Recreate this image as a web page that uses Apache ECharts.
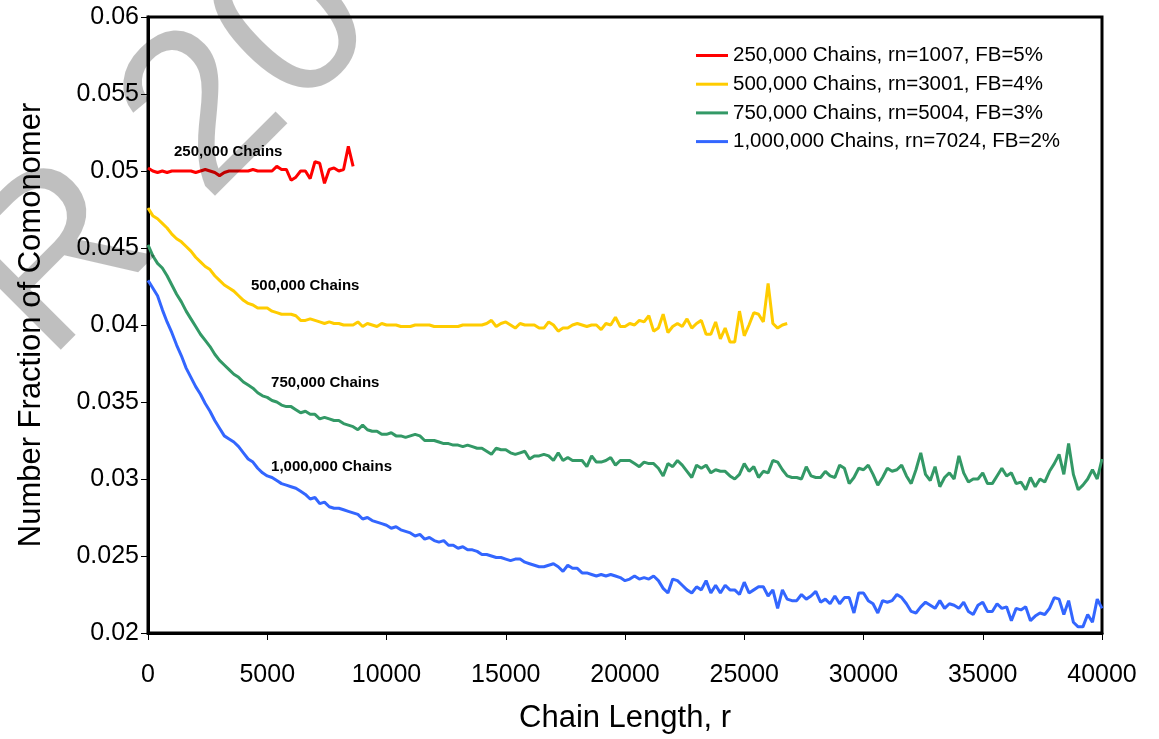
<!DOCTYPE html>
<html>
<head>
<meta charset="utf-8">
<title>Number Fraction of Comonomer vs Chain Length</title>
<script src="https://cdn.jsdelivr.net/npm/echarts@6/dist/echarts.min.js"></script>
<style>
  html, body { margin: 0; padding: 0; background: #fff; }
  #chart { width: 1159px; height: 739px; }
</style>
</head>
<body>
<div id="chart"></div>
<script>
// Chain length sampling interval (each value below is one bin of width rStep)
const rStep = 200;

const seriesNames = [
  '250,000 Chains, rn=1007, FB=5%',
  '500,000 Chains, rn=3001, FB=4%',
  '750,000 Chains, rn=5004, FB=3%',
  '1,000,000 Chains, rn=7024, FB=2%'
];
const curveLabels = ['250,000 Chains', '500,000 Chains', '750,000 Chains', '1,000,000 Chains'];
// anchor [r, fraction] for each in-plot curve label (left edge, vertical middle)
const curveLabelAnchors = [[1090, 0.05122], [4320, 0.04252], [5160, 0.03626], [5160, 0.03080]];
const colors = ['#ff0000', '#ffcc00', '#339966', '#3366ff'];

const chains250k = [
  0.0502,0.0500,0.0499,0.0500,0.0499,0.0500,0.0500,0.0500,0.0500,0.0500,
  0.0499,0.0500,0.0501,0.0500,0.0499,0.0497,0.0499,0.0500,0.0500,0.0500,
  0.0500,0.0500,0.0501,0.0500,0.0500,0.0500,0.0500,0.0503,0.0501,0.0501,
  0.0494,0.0496,0.0500,0.0500,0.0495,0.0506,0.0505,0.0492,0.0501,0.0502,
  0.0500,0.0501,0.0516,0.0503
];

const chains500k = [
  0.0476,0.0471,0.0469,0.0466,0.0463,0.0459,0.0456,0.0454,0.0451,0.0448,
  0.0444,0.0441,0.0438,0.0436,0.0432,0.0429,0.0426,0.0424,0.0422,0.0419,
  0.0416,0.0414,0.0413,0.0411,0.0411,0.0411,0.0409,0.0408,0.0407,0.0407,
  0.0407,0.0406,0.0403,0.0403,0.0404,0.0403,0.0402,0.0401,0.0402,0.0401,
  0.0401,0.0400,0.0400,0.0400,0.0402,0.0399,0.0401,0.0400,0.0399,0.0401,
  0.0400,0.0400,0.0400,0.0399,0.0399,0.0399,0.0400,0.0400,0.0400,0.0400,
  0.0399,0.0399,0.0399,0.0399,0.0399,0.0399,0.0400,0.0400,0.0400,0.0400,
  0.0400,0.0401,0.0403,0.0399,0.0401,0.0402,0.0400,0.0398,0.0401,0.0400,
  0.0400,0.0400,0.0398,0.0398,0.0402,0.0400,0.0396,0.0398,0.0398,0.0400,
  0.0401,0.0400,0.0399,0.0400,0.0400,0.0397,0.0401,0.0400,0.0405,0.0399,
  0.0399,0.0401,0.0400,0.0403,0.0402,0.0406,0.0396,0.0398,0.0407,0.0395,
  0.0399,0.0401,0.0399,0.0404,0.0398,0.0401,0.0403,0.0394,0.0394,0.0402,
  0.0391,0.0398,0.0389,0.0389,0.0409,0.0393,0.0400,0.0408,0.0407,0.0402,
  0.0427,0.0401,0.0398,0.0400,0.0401
];

const chains750k = [
  0.0452,0.0445,0.0440,0.0437,0.0432,0.0426,0.0420,0.0415,0.0409,0.0404,
  0.0399,0.0394,0.0390,0.0386,0.0381,0.0377,0.0374,0.0371,0.0368,0.0366,
  0.0363,0.0361,0.0359,0.0356,0.0354,0.0353,0.0351,0.0350,0.0348,0.0347,
  0.0347,0.0345,0.0343,0.0344,0.0342,0.0342,0.0339,0.0340,0.0339,0.0338,
  0.0338,0.0336,0.0335,0.0334,0.0332,0.0335,0.0332,0.0331,0.0331,0.0329,
  0.0329,0.0330,0.0328,0.0328,0.0327,0.0328,0.0329,0.0328,0.0325,0.0325,
  0.0325,0.0324,0.0323,0.0323,0.0322,0.0322,0.0321,0.0322,0.0321,0.0320,
  0.0320,0.0318,0.0316,0.0320,0.0319,0.0319,0.0317,0.0316,0.0317,0.0318,
  0.0313,0.0315,0.0315,0.0316,0.0315,0.0312,0.0317,0.0312,0.0314,0.0312,
  0.0312,0.0312,0.0308,0.0315,0.0311,0.0311,0.0312,0.0314,0.0309,0.0312,
  0.0312,0.0312,0.0310,0.0308,0.0311,0.0310,0.0310,0.0307,0.0302,0.0310,
  0.0308,0.0312,0.0309,0.0305,0.0301,0.0309,0.0307,0.0309,0.0304,0.0306,
  0.0305,0.0305,0.0302,0.0300,0.0303,0.0310,0.0305,0.0308,0.0301,0.0305,
  0.0304,0.0312,0.0311,0.0306,0.0302,0.0301,0.0301,0.0300,0.0308,0.0302,
  0.0301,0.0301,0.0305,0.0302,0.0301,0.0309,0.0307,0.0297,0.0301,0.0307,
  0.0306,0.0309,0.0303,0.0296,0.0301,0.0307,0.0305,0.0306,0.0309,0.0302,
  0.0297,0.0306,0.0317,0.0303,0.0299,0.0308,0.0295,0.0301,0.0304,0.0300,
  0.0315,0.0304,0.0298,0.0300,0.0300,0.0304,0.0297,0.0297,0.0302,0.0307,
  0.0302,0.0304,0.0297,0.0298,0.0293,0.0301,0.0295,0.0300,0.0298,0.0305,
  0.0310,0.0316,0.0303,0.0323,0.0303,0.0293,0.0296,0.0300,0.0306,0.0300,
  0.0313
];

const chains1000k = [
  0.0429,0.0424,0.0419,0.0410,0.0402,0.0395,0.0387,0.0380,0.0372,0.0366,
  0.0360,0.0355,0.0349,0.0344,0.0338,0.0333,0.0328,0.0326,0.0324,0.0321,
  0.0317,0.0313,0.0311,0.0307,0.0304,0.0302,0.0301,0.0299,0.0297,0.0296,
  0.0295,0.0294,0.0292,0.0290,0.0287,0.0288,0.0284,0.0285,0.0282,0.0281,
  0.0281,0.0280,0.0279,0.0278,0.0277,0.0274,0.0275,0.0273,0.0272,0.0271,
  0.0270,0.0268,0.0269,0.0267,0.0266,0.0265,0.0263,0.0264,0.0261,0.0262,
  0.0260,0.0259,0.0260,0.0257,0.0257,0.0255,0.0256,0.0254,0.0254,0.0253,
  0.0251,0.0251,0.0250,0.0249,0.0249,0.0248,0.0247,0.0248,0.0248,0.0246,
  0.0245,0.0244,0.0243,0.0243,0.0244,0.0245,0.0243,0.0240,0.0244,0.0242,
  0.0242,0.0239,0.0239,0.0238,0.0237,0.0238,0.0237,0.0238,0.0237,0.0236,
  0.0234,0.0235,0.0237,0.0235,0.0236,0.0235,0.0237,0.0234,0.0229,0.0226,
  0.0235,0.0234,0.0231,0.0228,0.0226,0.0230,0.0228,0.0234,0.0226,0.0231,
  0.0226,0.0231,0.0228,0.0228,0.0225,0.0233,0.0226,0.0228,0.0230,0.0230,
  0.0224,0.0228,0.0216,0.0228,0.0222,0.0221,0.0221,0.0225,0.0222,0.0224,
  0.0227,0.0220,0.0222,0.0219,0.0224,0.0219,0.0223,0.0223,0.0213,0.0226,
  0.0226,0.0221,0.0219,0.0213,0.0221,0.0220,0.0221,0.0225,0.0223,0.0219,
  0.0214,0.0213,0.0217,0.0220,0.0218,0.0216,0.0221,0.0216,0.0219,0.0218,
  0.0216,0.0220,0.0214,0.0212,0.0218,0.0220,0.0214,0.0214,0.0219,0.0216,
  0.0217,0.0208,0.0216,0.0215,0.0217,0.0208,0.0211,0.0213,0.0212,0.0216,
  0.0223,0.0222,0.0212,0.0221,0.0207,0.0204,0.0204,0.0212,0.0207,0.0222,
  0.0216
];

const allSeries = [chains250k, chains500k, chains750k, chains1000k];

const xTicks = { min: 0, max: 40000, interval: 5000 };
const yTicks = { min: 0.02, max: 0.06, interval: 0.005 };

const FONT = '"Liberation Sans", Arial, Helvetica, sans-serif';

const chart = echarts.init(document.getElementById('chart'), null, { renderer: 'canvas' });

const series = allSeries.map((vals, k) => ({
  name: seriesNames[k],
  type: 'line',
  symbol: 'none',
  smooth: false,
  color: colors[k],
  lineStyle: { width: 3, color: colors[k] },
  data: vals.map((v, i) => [i * rStep, v]),
  z: 2 + k,
  markPoint: {
    symbol: 'circle',
    symbolSize: 0,
    silent: true,
    data: [{ coord: curveLabelAnchors[k] }],
    label: {
      show: true,
      position: 'right',
      distance: 0,
      formatter: curveLabels[k],
      color: '#000',
      fontFamily: FONT,
      fontWeight: 'bold',
      fontSize: 15
    }
  }
}));

chart.setOption({
  animation: false,
  backgroundColor: '#ffffff',
  grid: {
    left: 148, right: 57, top: 17, bottom: 102,
    show: true,
    borderColor: '#000',
    borderWidth: 3,
    backgroundColor: 'transparent'
  },
  legend: {
    orient: 'vertical',
    left: 696,
    top: 45,
    padding: 0,
    icon: 'rect',
    itemWidth: 32,
    itemHeight: 3,
    itemGap: 7.7,
    textStyle: { fontFamily: FONT, fontSize: 20.5, color: '#000', lineHeight: 21 },
    data: seriesNames
  },
  xAxis: {
    type: 'value',
    min: xTicks.min, max: xTicks.max, interval: xTicks.interval,
    name: 'Chain Length, r',
    nameLocation: 'middle',
    nameGap: 70,
    nameTextStyle: { fontFamily: FONT, fontSize: 31, color: '#000' },
    axisLine: { show: true, onZero: false, lineStyle: { color: '#000', width: 3 } },
    axisTick: { show: true, length: 7, lineStyle: { color: '#000', width: 1 } },
    axisLabel: {
      fontFamily: FONT, fontSize: 25, color: '#000', margin: 30,
      formatter: v => String(v)
    },
    splitLine: { show: false }
  },
  yAxis: {
    type: 'value',
    min: yTicks.min, max: yTicks.max, interval: yTicks.interval,
    name: 'Number Fraction of Comonomer',
    nameLocation: 'middle',
    nameGap: 101,
    nameTextStyle: { fontFamily: FONT, fontSize: 31, color: '#000' },
    axisLine: { show: true, onZero: false, lineStyle: { color: '#000', width: 3 } },
    axisTick: { show: true, length: 7, lineStyle: { color: '#000', width: 1 } },
    axisLabel: {
      fontFamily: FONT, fontSize: 25, color: '#000', margin: 9,
      formatter: v => String(+v.toFixed(3))
    },
    splitLine: { show: false }
  },
  graphic: [{
    // translucent watermark lettering across the upper-left corner
    type: 'text',
    x: 4,
    y: 319,
    rotation: Math.PI / 4,
    silent: true,
    z: 100,
    style: {
      text: 'R 2008',
      fontFamily: FONT,
      fontSize: 225,
      fill: 'rgba(0,0,0,0.25)',
      align: 'left',
      verticalAlign: 'middle'
    }
  }],
  series: series
});
</script>
</body>
</html>
